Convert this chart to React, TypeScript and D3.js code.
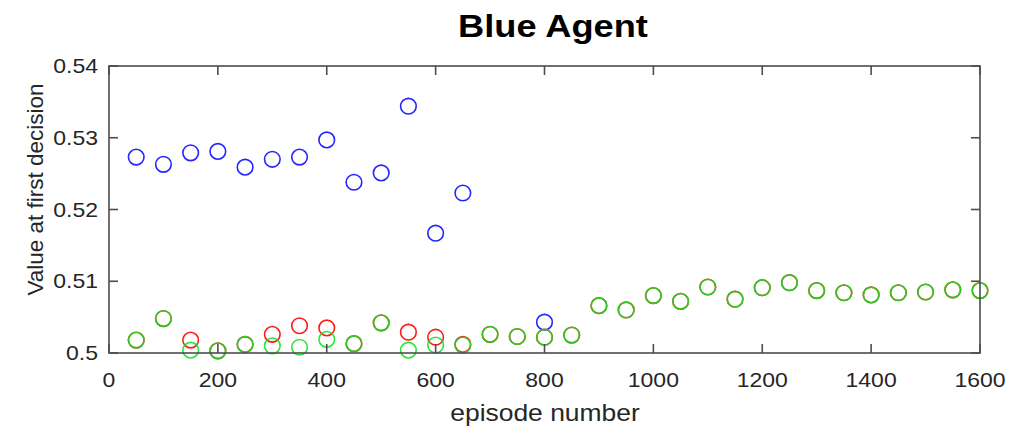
import React from "react";
import * as d3 from "d3";

// Episode checkpoints (every 50 episodes)
const episodes = [
  50, 100, 150, 200, 250, 300, 350, 400, 450, 500, 550, 600, 650, 700, 750, 800,
  850, 900, 950, 1000, 1050, 1100, 1150, 1200, 1250, 1300, 1350, 1400, 1450, 1500, 1550, 1600,
];

// Blue series: only recorded for part of the run (null = no point)
const blueValues: (number | null)[] = [
  0.5273, 0.5263, 0.5279, 0.5281, 0.5259, 0.527, 0.5273, 0.5297, 0.5238, 0.5251, 0.5344, 0.5167, 0.5223,
  null, null, 0.5043, null, null, null, null, null, null, null, null, null, null, null, null, null, null, null, null,
];

// Red series
const redValues = [
  0.5018, 0.5048, 0.5018, 0.5003, 0.5012, 0.5026, 0.5038, 0.5035, 0.5013, 0.5042, 0.5029, 0.5022, 0.5012,
  0.5026, 0.5023, 0.5022, 0.5025, 0.5066, 0.506, 0.508, 0.5072, 0.5092, 0.5075, 0.5091, 0.5098, 0.5087,
  0.5084, 0.5081, 0.5084, 0.5085, 0.5088, 0.5087,
];

// Green series
const greenValues = [
  0.5018, 0.5048, 0.5004, 0.5003, 0.5012, 0.501, 0.5008, 0.5019, 0.5013, 0.5042, 0.5004, 0.5011, 0.5011,
  0.5026, 0.5023, 0.5022, 0.5025, 0.5066, 0.506, 0.508, 0.5072, 0.5092, 0.5075, 0.5091, 0.5098, 0.5087,
  0.5084, 0.5081, 0.5084, 0.5085, 0.5088, 0.5087,
];

const xTicks = [0, 200, 400, 600, 800, 1000, 1200, 1400, 1600];
const yTicks = [0.5, 0.51, 0.52, 0.53, 0.54];
const yTickLabels = ["0.5", "0.51", "0.52", "0.53", "0.54"];

const W = 1017;
const H = 429;
const left = 109;
const right = 980;
const top = 66;
const bottom = 353;
const font = "'Liberation Sans', Arial, Helvetica, sans-serif";
const axisColor = "#4d4d4d";
const stretch = 1.15;

export default function App() {
  const x = d3.scaleLinear().domain([0, 1600]).range([left, right]);
  const y = d3.scaleLinear().domain([0.5, 0.54]).range([bottom, top]);
  const r = 7.8;
  const tickLen = 9;

  const circles = (vals: (number | null)[], color: string, opacity = 1) =>
    episodes.map((e, i) =>
      vals[i] == null ? null : (
        <circle
          key={color + i}
          cx={x(e)}
          cy={y(vals[i] as number)}
          r={r}
          fill="none"
          stroke={color}
          strokeWidth={1.6}
          strokeOpacity={opacity}
        />
      )
    );

  return (
    <svg
      width={W}
      height={H}
      style={{ position: "absolute", left: 0, top: 0, background: "#fff" }}
    >
      <rect x={0} y={0} width={W} height={H} fill="#fff" />

      {/* title */}
      <text
        transform={`translate(553,37) scale(${stretch},1)`}
        textAnchor="middle"
        fontFamily={font}
        fontWeight="bold"
        fontSize={31.5}
        fill="#000"
      >
        Blue Agent
      </text>

      {/* data */}
      {circles(blueValues, "#2525ff")}
      {circles(redValues, "#ff1a1a")}
      {circles(greenValues, "#10e020", 0.88)}

      {/* axes box */}
      <rect
        x={left}
        y={top}
        width={right - left}
        height={bottom - top}
        fill="none"
        stroke={axisColor}
        strokeWidth={1.6}
      />

      {xTicks.map((t) => (
        <g key={"xt" + t}>
          <line x1={x(t)} x2={x(t)} y1={bottom} y2={bottom - tickLen} stroke={axisColor} strokeWidth={1.6} />
          <line x1={x(t)} x2={x(t)} y1={top} y2={top + tickLen} stroke={axisColor} strokeWidth={1.6} />
          <text
            transform={`translate(${x(t)},387) scale(${stretch},1)`}
            textAnchor="middle"
            fontFamily={font}
            fontSize={20}
            fill="#262626"
          >
            {t}
          </text>
        </g>
      ))}

      {yTicks.map((t, i) => (
        <g key={"yt" + t}>
          <line x1={left} x2={left + tickLen} y1={y(t)} y2={y(t)} stroke={axisColor} strokeWidth={1.6} />
          <line x1={right} x2={right - tickLen} y1={y(t)} y2={y(t)} stroke={axisColor} strokeWidth={1.6} />
          <text
            transform={`translate(98,${y(t) + 7}) scale(${stretch},1)`}
            textAnchor="end"
            fontFamily={font}
            fontSize={20}
            fill="#262626"
          >
            {yTickLabels[i]}
          </text>
        </g>
      ))}

      {/* axis labels */}
      <text
        transform={`translate(545,421) scale(${stretch},1)`}
        textAnchor="middle"
        fontFamily={font}
        fontSize={23}
        fill="#262626"
      >
        episode number
      </text>
      <text
        transform={`translate(43,${(top + bottom) / 2 - 20}) rotate(-90)`}
        textAnchor="middle"
        fontFamily={font}
        fontSize={22.5}
        fill="#262626"
      >
        Value at first decision
      </text>
    </svg>
  );
}
